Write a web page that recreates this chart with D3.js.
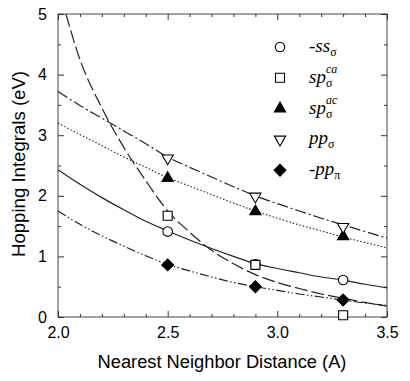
<!DOCTYPE html>
<html><head><meta charset="utf-8">
<script src="https://cdn.jsdelivr.net/npm/d3@7"></script>
<style>body{margin:0;background:#fff}svg{display:block}</style>
</head><body>
<svg id="c" width="410" height="381"></svg>
<script>
// Data points
const distances = [2.5, 2.9, 3.3];
const ssSigma = [1.41, 0.87, 0.61];
const spSigmaCA = [1.67, 0.86, 0.03];
const spSigmaAC = [2.29, 1.74, 1.33];
const ppSigma = [2.62, 1.99, 1.49];
const ppPi = [0.86, 0.50, 0.28];

// Fitted curves
const curveX = [2.0, 2.1, 2.2, 2.3, 2.4, 2.5, 2.6, 2.7, 2.8, 2.9, 3.0, 3.1, 3.2, 3.3, 3.4, 3.5];
const ssCurve =   [2.43, 2.19, 1.97, 1.77, 1.58, 1.42, 1.27, 1.13, 1.00, 0.88, 0.80, 0.73, 0.66, 0.61, 0.54, 0.48];
const ppSigmaCurve = [3.72, 3.49, 3.28, 3.07, 2.86, 2.64, 2.47, 2.31, 2.15, 2.0, 1.87, 1.75, 1.63, 1.52, 1.41, 1.30];
const spACCurve = [3.20, 3.01, 2.83, 2.64, 2.47, 2.30, 2.16, 2.02, 1.88, 1.75, 1.63, 1.52, 1.42, 1.32, 1.23, 1.14];
const ppPiCurve = [1.75, 1.53, 1.34, 1.17, 1.01, 0.87, 0.76, 0.66, 0.57, 0.50, 0.44, 0.38, 0.33, 0.28, 0.23, 0.19];
const spCACurveX = [2.036, 2.1, 2.2, 2.3, 2.4, 2.5, 2.6, 2.7, 2.8, 2.9, 3.0, 3.1, 3.2, 3.3, 3.4, 3.5];
const spCACurve = [5.0, 4.25, 3.45, 2.80, 2.25, 1.75, 1.40, 1.10, 0.88, 0.70, 0.57, 0.47, 0.38, 0.31, 0.24, 0.18];

const xTicks = [2.0, 2.5, 3.0, 3.5];
const xMinor = [2.1, 2.2, 2.3, 2.4, 2.6, 2.7, 2.8, 2.9, 3.1, 3.2, 3.3, 3.4];
const yTicks = [0, 1, 2, 3, 4, 5];
const yMinor = [0.5, 1.5, 2.5, 3.5, 4.5];

const svg = d3.select("#c");
const x = d3.scaleLinear().domain([2.0, 3.5]).range([58, 387]);
const y = d3.scaleLinear().domain([0, 5]).range([317, 14]);

const g = svg.append("g");
g.append("rect").attr("x", 58).attr("y", 14).attr("width", 329).attr("height", 303)
  .attr("fill", "none").attr("stroke", "#444").attr("stroke-width", 1);

const fmt = d3.format(".1f");
g.append("g").attr("transform", "translate(0,317)")
  .call(d3.axisBottom(x).tickValues(xTicks).tickFormat(fmt).tickSizeInner(-6).tickSizeOuter(0).tickPadding(10));
g.append("g").attr("transform", "translate(0,317)")
  .call(d3.axisBottom(x).tickValues(xMinor).tickFormat("").tickSizeInner(-3).tickSizeOuter(0));
g.append("g").attr("transform", "translate(0,14)")
  .call(d3.axisTop(x).tickValues(xTicks).tickFormat("").tickSizeInner(-6).tickSizeOuter(0));
g.append("g").attr("transform", "translate(0,14)")
  .call(d3.axisTop(x).tickValues(xMinor).tickFormat("").tickSizeInner(-3).tickSizeOuter(0));
g.append("g").attr("transform", "translate(58,0)")
  .call(d3.axisLeft(y).tickValues(yTicks).tickFormat(d3.format("d")).tickSizeInner(-6).tickSizeOuter(0).tickPadding(11));
g.append("g").attr("transform", "translate(58,0)")
  .call(d3.axisLeft(y).tickValues(yMinor).tickFormat("").tickSizeInner(-3).tickSizeOuter(0));
g.append("g").attr("transform", "translate(387,0)")
  .call(d3.axisRight(y).tickValues(yTicks).tickFormat("").tickSizeInner(-6).tickSizeOuter(0));
g.append("g").attr("transform", "translate(387,0)")
  .call(d3.axisRight(y).tickValues(yMinor).tickFormat("").tickSizeInner(-3).tickSizeOuter(0));
g.selectAll(".domain").remove();
g.selectAll(".tick line").attr("stroke", "#333");
g.selectAll(".tick text").attr("font-family", "Liberation Sans, Arial, sans-serif").attr("font-size", 16).attr("fill", "#000");

// curves
const line = (xs, ys) => d3.line().curve(d3.curveMonotoneX).x((d,i) => x(xs[i])).y(d => y(d))(ys);
const plot = g.append("g");
plot.append("path").attr("d", line(curveX, ssCurve)).attr("fill","none").attr("stroke","#222").attr("stroke-width",1.2);
plot.append("path").attr("d", line(spCACurveX, spCACurve)).attr("fill","none").attr("stroke","#222").attr("stroke-width",1.2).attr("stroke-dasharray","13,4");
plot.append("path").attr("d", line(curveX, spACCurve)).attr("fill","none").attr("stroke","#222").attr("stroke-width",1.1).attr("stroke-dasharray","1.5,2");
plot.append("path").attr("d", line(curveX, ppSigmaCurve)).attr("fill","none").attr("stroke","#222").attr("stroke-width",1.2).attr("stroke-dasharray","11,3,2,3");
plot.append("path").attr("d", line(curveX, ppPiCurve)).attr("fill","none").attr("stroke","#222").attr("stroke-width",1.2).attr("stroke-dasharray","9,2.5,1.5,2.5,1.5,2.5");

// markers
const markerDefs = {
  circle: {type: d3.symbolCircle, size: 72, fill: "#fff", rot: 0},
  square: {type: d3.symbolSquare, size: 81, fill: "#fff", rot: 0},
  triUp: {type: d3.symbolTriangle, size: 55, fill: "#000", rot: 0},
  triDown: {type: d3.symbolTriangle, size: 55, fill: "#fff", rot: 180},
  diamond: {type: d3.symbolSquare, size: 70, fill: "#000", rot: 45}
};
const sym = m => d3.symbol().type(m.type).size(m.size)();
function drawMarkers(vals, m) {
  plot.selectAll(null).data(vals).enter().append("path")
    .attr("d", sym(m))
    .attr("transform", (d,i) => `translate(${x(distances[i])},${y(d)}) rotate(${m.rot})`)
    .attr("fill", m.fill).attr("stroke", "#000").attr("stroke-width", 1.1);
}
drawMarkers(ssSigma, markerDefs.circle);
drawMarkers(spSigmaCA, markerDefs.square);
drawMarkers(spSigmaAC, markerDefs.triUp);
drawMarkers(ppSigma, markerDefs.triDown);
drawMarkers(ppPi, markerDefs.diamond);

// legend
const legendItems = [
  {m: markerDefs.circle, base: "-ss", sub: "σ", sup: ""},
  {m: markerDefs.square, base: "sp", sub: "σ", sup: "ca"},
  {m: markerDefs.triUp, base: "sp", sub: "σ", sup: "ac"},
  {m: markerDefs.triDown, base: "pp", sub: "σ", sup: ""},
  {m: markerDefs.diamond, base: "-pp", sub: "π", sup: ""}
];
const lg = g.append("g");
legendItems.forEach((it, i) => {
  const yy = 47 + i * 30.8;
  lg.append("path").attr("d", sym(it.m))
    .attr("transform", `translate(280,${yy}) rotate(${it.m.rot})`)
    .attr("fill", it.m.fill).attr("stroke", "#000").attr("stroke-width", 1.1);
  const t = lg.append("text").attr("x", 309).attr("y", yy + 5)
    .attr("font-family", "Liberation Serif, Times New Roman, serif").attr("font-style", "italic").attr("font-size", 19);
  t.append("tspan").text(it.base);
  const bx = t.node().getComputedTextLength();
  t.append("tspan").attr("x", 309 + bx).attr("dy", 4).attr("font-size", 12).attr("font-style", "normal").text(it.sub);
  if (it.sup) t.append("tspan").attr("x", 309 + bx).attr("dy", -14).attr("font-size", 12).text(it.sup);
});

// axis titles
g.append("text").attr("x", 222).attr("y", 368).attr("text-anchor", "middle")
  .attr("font-family", "Liberation Sans, Arial, sans-serif").attr("font-size", 18.3).text("Nearest Neighbor Distance (A)");
g.append("text").attr("transform", "translate(25,164) rotate(-90)").attr("text-anchor", "middle")
  .attr("font-family", "Liberation Sans, Arial, sans-serif").attr("font-size", 18.6).text("Hopping Integrals (eV)");
</script>
</body></html>
